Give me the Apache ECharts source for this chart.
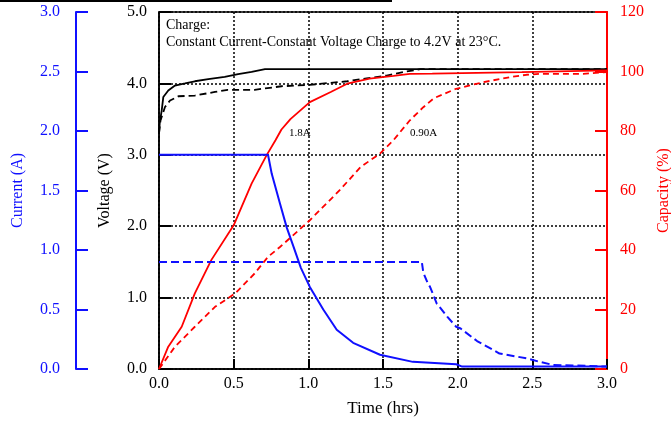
<!DOCTYPE html>
<html><head><meta charset="utf-8">
<script src="https://cdn.jsdelivr.net/npm/echarts@6/dist/echarts.min.js"></script>
<style>html,body{margin:0;padding:0;background:#fff}#c{width:671px;height:423px}</style>
</head><body><div id="c"></div>
<script>
// Voltage, 1.8 A charge (V)
const volt18T = [0, 0.005, 0.018, 0.029, 0.062, 0.107, 0.174, 0.24, 0.33, 0.44, 0.53, 0.62, 0.71, 3.0];
const volt18V = [3.3, 3.45, 3.62, 3.81, 3.90, 3.97, 4.00, 4.03, 4.06, 4.09, 4.13, 4.16, 4.2, 4.2];
// Voltage, 0.90 A charge (V)
const volt09T = [0, 0.01, 0.04, 0.074, 0.13, 0.24, 0.375, 0.46, 0.64, 0.82, 1.01, 1.26, 1.39, 1.525, 1.64, 1.75, 3.0];
const volt09V = [3.3, 3.48, 3.67, 3.76, 3.82, 3.83, 3.88, 3.91, 3.91, 3.96, 3.98, 4.03, 4.07, 4.11, 4.16, 4.2, 4.2];
// Current, 1.8 A charge (A)
const cur18T = [0, 0.73, 0.755, 0.81, 0.855, 0.90, 0.95, 1.01, 1.10, 1.19, 1.30, 1.48, 1.70, 1.99, 2.03, 3.0];
const cur18I = [1.8, 1.8, 1.64, 1.39, 1.19, 1.03, 0.85, 0.69, 0.50, 0.33, 0.22, 0.12, 0.06, 0.04, 0.02, 0.02];
// Current, 0.90 A charge (A)
const cur09T = [0, 1.76, 1.77, 1.80, 1.815, 1.86, 1.88, 1.93, 1.99, 2.02, 2.13, 2.28, 2.46, 2.55, 2.64, 2.77, 3.0];
const cur09I = [0.9, 0.9, 0.81, 0.72, 0.69, 0.55, 0.52, 0.44, 0.355, 0.34, 0.235, 0.13, 0.09, 0.06, 0.034, 0.03, 0.02];
// Capacity, 1.8 A charge (%)
const cap18T = [0, 0.062, 0.152, 0.24, 0.35, 0.50, 0.62, 0.72, 0.78, 0.82, 0.88, 1.01, 1.15, 1.26, 1.41, 1.57, 1.68, 1.83, 1.84, 2.43, 2.44, 3.0];
const cap18C = [0, 7.5, 14.2, 25.4, 36.6, 48.3, 62.3, 71.8, 76.9, 80.5, 84.0, 89.7, 93.1, 95.9, 97.6, 98.5, 99.2, 99.3, 99.8, 99.8, 100.4, 100.4];
// Capacity, 0.90 A charge (%)
const cap09T = [0, 0.107, 0.24, 0.375, 0.51, 0.64, 0.73, 0.81, 1.01, 1.21, 1.35, 1.48, 1.57, 1.68, 1.77, 1.84, 1.99, 2.17, 2.35, 2.46, 2.55, 2.84, 3.0];
const cap09C = [0, 7.5, 14.2, 20.9, 25.4, 32.1, 37.7, 41, 50, 60.1, 67.9, 72.4, 76.9, 83.6, 88, 91, 94.2, 96.4, 98.1, 98.9, 99.2, 99.2, 99.8];
// Tick settings
const timeTicks = {min: 0, max: 3, interval: 0.5};
const voltTicks = {min: 0, max: 5, interval: 1};
const curTicks = {min: 0, max: 3, interval: 0.5};
const capTicks = {min: 0, max: 120, interval: 20};
const seriesLabels = ['1.8A', '0.90A'];

const zip = (a, b) => a.map((v, i) => [v, b[i]]);
const FONT = 'Liberation Serif';
const BLUE = '#1010ff', RED = '#ff0000', BLACK = '#000';

const chart = echarts.init(document.getElementById('c'), null, {renderer: 'canvas'});
chart.setOption({
  animation: false,
  backgroundColor: '#fff',
  grid: {left: 159, right: 64, top: 12, bottom: 54, show: true, borderColor: BLACK, borderWidth: 1.5,
    containLabel: false, outerBoundsMode: 'none'},
  xAxis: {
    type: 'value', ...timeTicks,
    name: 'Time (hrs)', nameLocation: 'middle', nameGap: 31,
    nameTextStyle: {fontFamily: FONT, fontSize: 17, color: BLACK},
    axisLine: {show: true, lineStyle: {color: BLACK, width: 1.5}},
    axisTick: {show: true, inside: true, length: 10, lineStyle: {color: BLACK, width: 2}},
    axisLabel: {fontFamily: FONT, fontSize: 16, color: BLACK, margin: 7, formatter: v => v.toFixed(1)},
    splitLine: {show: true, lineStyle: {color: BLACK, type: [2, 2], width: 1.5}}
  },
  yAxis: [
    {
      type: 'value', ...voltTicks, position: 'left',
      name: 'Voltage (V)', nameLocation: 'middle', nameGap: 46, nameRotate: 90,
      nameTextStyle: {fontFamily: FONT, fontSize: 16, color: BLACK},
      axisLine: {show: true, lineStyle: {color: BLACK, width: 1.5}},
      axisTick: {show: true, inside: true, length: 12, lineStyle: {color: BLACK, width: 2}},
      axisLabel: {fontFamily: FONT, fontSize: 16, color: BLACK, margin: 12, formatter: v => v.toFixed(1)},
      splitLine: {show: true, lineStyle: {color: BLACK, type: [2, 2], width: 1.5}}
    },
    {
      type: 'value', ...curTicks, position: 'left', offset: 83,
      name: 'Current (A)', nameLocation: 'middle', nameGap: 50, nameRotate: 90,
      nameTextStyle: {fontFamily: FONT, fontSize: 16, color: BLUE},
      axisLine: {show: true, lineStyle: {color: BLUE, width: 2}},
      axisTick: {show: true, inside: true, length: 12, lineStyle: {color: BLUE, width: 2}},
      axisLabel: {fontFamily: FONT, fontSize: 16, color: BLUE, margin: 16, formatter: v => v.toFixed(1)},
      splitLine: {show: false}
    },
    {
      type: 'value', ...capTicks, position: 'right',
      name: 'Capacity (%)', nameLocation: 'middle', nameGap: 49, nameRotate: 90,
      nameTextStyle: {fontFamily: FONT, fontSize: 16, color: RED},
      axisLine: {show: true, lineStyle: {color: RED, width: 2}},
      axisTick: {show: true, inside: true, length: 12, lineStyle: {color: RED, width: 2}},
      axisLabel: {fontFamily: FONT, fontSize: 16, color: RED, margin: 13},
      splitLine: {show: false}
    }
  ],
  series: [
    {name: 'V 1.8A', type: 'line', yAxisIndex: 0, data: zip(volt18T, volt18V), showSymbol: false,
      lineStyle: {color: BLACK, width: 1.8}},
    {name: 'V 0.90A', type: 'line', yAxisIndex: 0, data: zip(volt09T, volt09V), showSymbol: false,
      lineStyle: {color: BLACK, width: 1.8, type: [7, 4]}},
    {name: 'C 1.8A', type: 'line', yAxisIndex: 2, data: zip(cap18T, cap18C), showSymbol: false,
      lineStyle: {color: RED, width: 1.8}},
    {name: 'C 0.90A', type: 'line', yAxisIndex: 2, data: zip(cap09T, cap09C), showSymbol: false,
      lineStyle: {color: RED, width: 1.8, type: [6, 4]}},
    {name: 'I 1.8A', type: 'line', yAxisIndex: 1, data: zip(cur18T, cur18I), showSymbol: false,
      lineStyle: {color: BLUE, width: 2}},
    {name: 'I 0.90A', type: 'line', yAxisIndex: 1, data: zip(cur09T, cur09I), showSymbol: false,
      lineStyle: {color: BLUE, width: 2, type: [8, 4]}}
  ],
  graphic: [
    {type: 'line', shape: {x1: 0, y1: 1, x2: 392, y2: 1}, style: {stroke: BLACK, lineWidth: 2}},
    {type: 'text', left: 166, top: 18, style: {text: 'Charge:', font: '14px "Liberation Serif"', fill: BLACK}},
    {type: 'text', left: 166, top: 35, style: {text: 'Constant Current-Constant Voltage Charge to 4.2V at 23°C.', font: '14px "Liberation Serif"', fill: BLACK}},
    {type: 'text', left: 289, top: 128, style: {text: seriesLabels[0], font: '11px "Liberation Serif"', fill: BLACK}},
    {type: 'text', left: 410, top: 128, style: {text: seriesLabels[1], font: '11px "Liberation Serif"', fill: BLACK}}
  ]
});
</script></body></html>
